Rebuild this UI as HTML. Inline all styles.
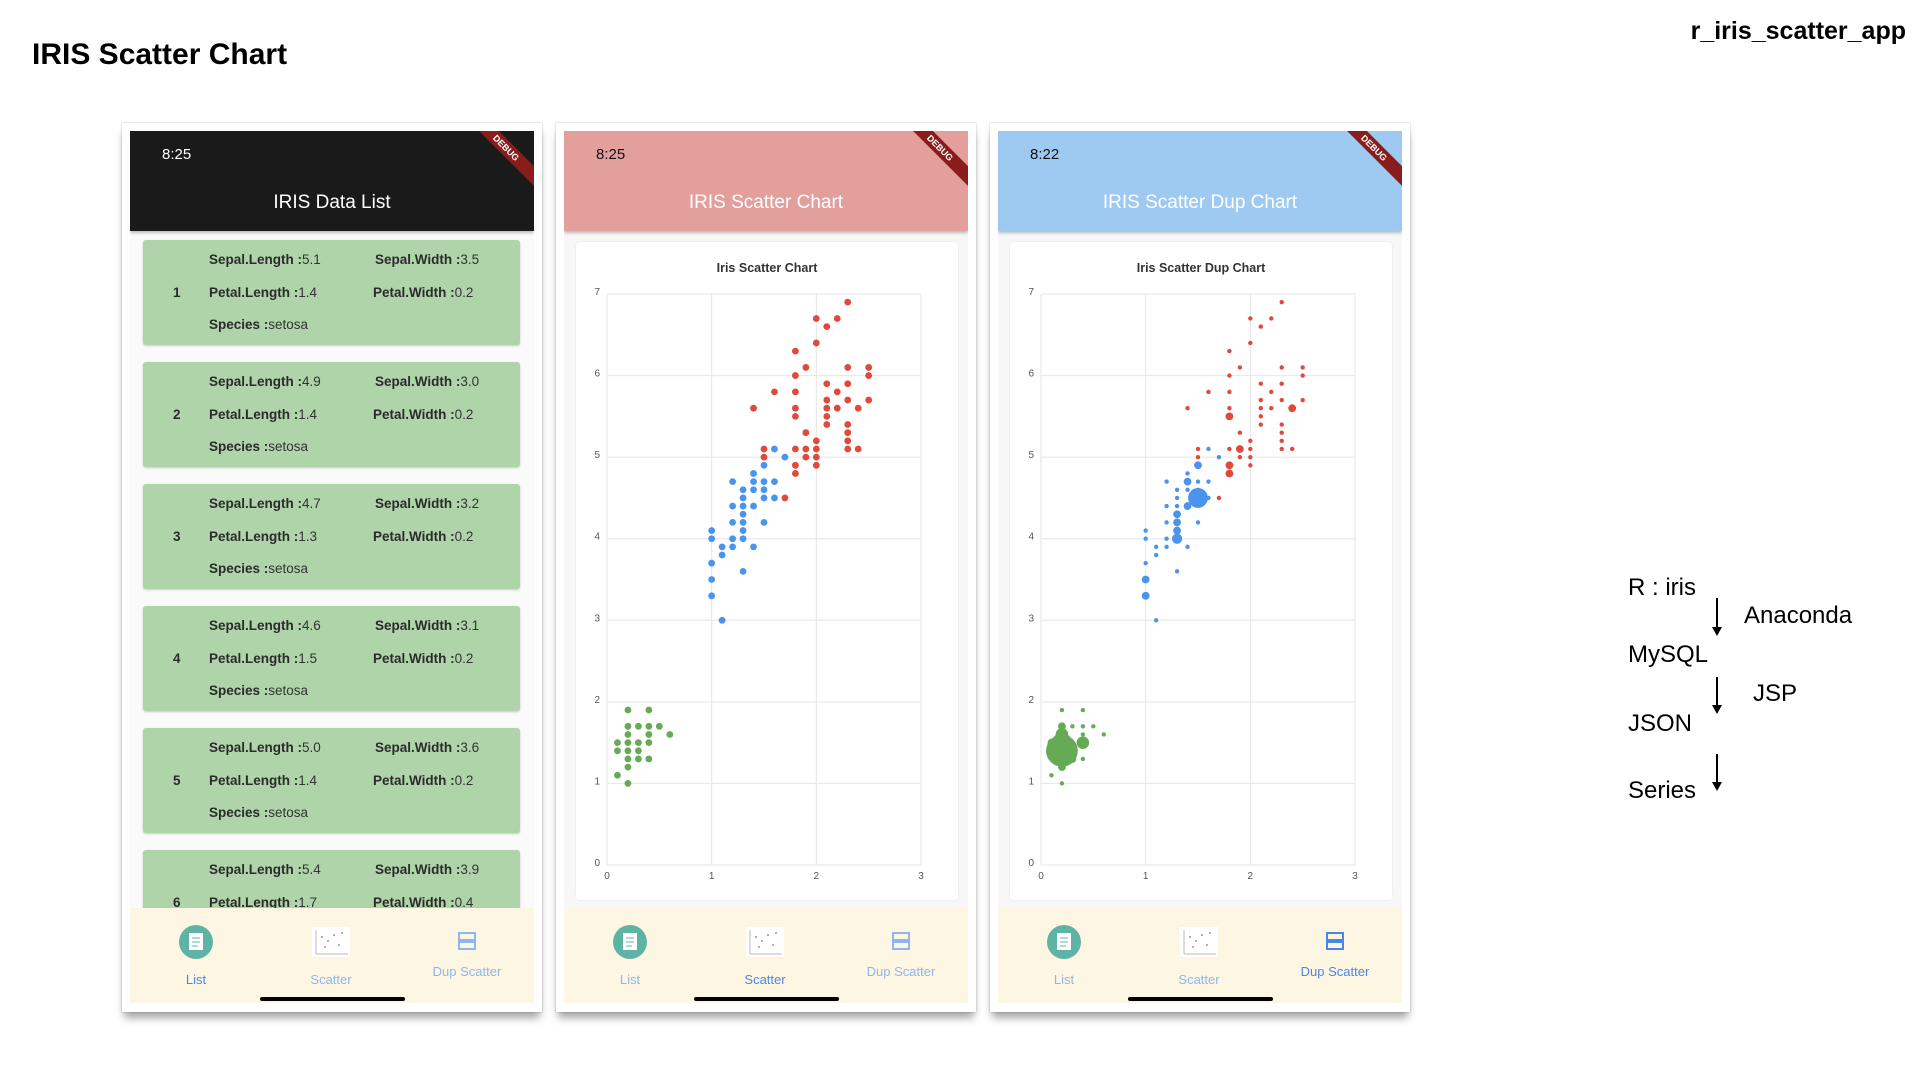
<!DOCTYPE html>
<html><head><meta charset="utf-8"><style>
body{margin:0;width:1914px;height:1068px;background:#fff;position:relative;overflow:hidden;font-family:"Liberation Sans",sans-serif}
.abs{position:absolute}
.frame{position:absolute;top:123px;width:420px;height:889px;background:#fff;box-shadow:0 8px 8px -2px rgba(0,0,0,.35),0 0 2px rgba(0,0,0,.25)}
.screen{position:absolute;left:8px;top:8px;width:404px;height:872px;background:#f7f7f7;overflow:hidden}
.hdr{position:absolute;left:0;top:0;width:404px;height:100px;box-shadow:0 2px 3px rgba(0,0,0,.25)}
.time{position:absolute;left:32px;top:15px;font-size:15px}
.htitle{position:absolute;left:0;width:404px;top:61px;text-align:center;font-size:19px;color:#fff}
.ribbon{position:absolute;right:-22px;top:10px;width:100px;height:14px;background:#8b1c1c;transform:rotate(45deg);color:#fff;font-size:9px;font-weight:bold;text-align:center;line-height:14px}
.card{position:absolute;left:13px;width:377px;height:105px;background:#afd4aa;border-radius:3px;box-shadow:0 1px 2px rgba(0,0,0,.2);font-size:13.5px;color:#333}
.card b{color:#2b2b2b}
.card span{position:absolute}
.nav{position:absolute;left:0;top:777px;width:404px;height:95px;background:#fdf6e3}
.nav .lbl{position:absolute;font-size:13px;text-align:center;width:120px}
.home{position:absolute;left:130px;top:89px;width:145px;height:4px;border-radius:2px;background:#000}
.ccard{position:absolute;left:12px;top:111px;width:382px;height:658px;background:#fff;border-radius:4px;box-shadow:0 0 2px rgba(0,0,0,.08)}
.side{position:absolute;font-size:24px;color:#000}
</style></head><body>
<div class="abs" style="left:32px;top:38px;font-size:30px;font-weight:bold">IRIS Scatter Chart</div>
<div class="abs" style="right:8px;top:17px;font-size:25px;font-weight:bold">r_iris_scatter_app</div>

<!-- Phone 1 -->
<div class="frame" style="left:122px">
 <div class="screen" style="background:#fafafa">
  <div class="hdr" style="background:#1a1a1a">
   <div class="time" style="color:#fff">8:25</div>
   <div class="ribbon">DEBUG</div>
   <div class="htitle">IRIS Data List</div>
  </div>
  <div id="cards"></div>
  <div class="nav"></div>
 </div>
</div>
<!-- Phone 2 -->
<div class="frame" style="left:556px">
 <div class="screen">
  <div class="hdr" style="background:#e29f9c">
   <div class="time" style="color:#111">8:25</div>
   <div class="ribbon">DEBUG</div>
   <div class="htitle">IRIS Scatter Chart</div>
  </div>
  <div class="ccard"><svg id="sc1" width="382" height="658"></svg></div>
  <div class="nav"></div>
 </div>
</div>
<!-- Phone 3 -->
<div class="frame" style="left:990px">
 <div class="screen">
  <div class="hdr" style="background:#9ecaf2">
   <div class="time" style="color:#111">8:22</div>
   <div class="ribbon">DEBUG</div>
   <div class="htitle">IRIS Scatter Dup Chart</div>
  </div>
  <div class="ccard"><svg id="sc2" width="382" height="658"></svg></div>
  <div class="nav"></div>
 </div>
</div>

<div class="side" style="left:1628px;top:574px">R : iris</div>
<div class="side" style="left:1744px;top:602px">Anaconda</div>
<div class="side" style="left:1628px;top:641px">MySQL</div>
<div class="side" style="left:1753px;top:680px">JSP</div>
<div class="side" style="left:1628px;top:710px">JSON</div>
<div class="side" style="left:1628px;top:777px">Series</div>
<svg class="abs" style="left:1700px;top:590px" width="40" height="210">
 <g stroke="#000" stroke-width="2"><line x1="17" y1="8" x2="17" y2="40"/><line x1="17" y1="87" x2="17" y2="118"/><line x1="17" y1="164" x2="17" y2="195"/></g>
 <g fill="#000"><polygon points="12,37 22,37 17,46"/><polygon points="12,115 22,115 17,124"/><polygon points="12,192 22,192 17,201"/></g>
</svg>

<script>
// ---- data ----
const setosaX=[0.2,0.4,0.2,0.3,0.4,0.5,0.2,0.4,0.6,0.1,0.2,0.3,0.4,0.1,0.2,0.3,0.2,0.3,0.4,0.2,0.1,0.2];
const setosaY=[1.9,1.9,1.7,1.7,1.7,1.7,1.6,1.6,1.6,1.5,1.5,1.5,1.5,1.4,1.4,1.4,1.3,1.3,1.3,1.2,1.1,1.0];
const setosaN=[1,1,2,1,1,1,4,1,1,2,7,1,4,1,12,1,4,2,1,2,1,1];
const versiX=[1.6,1.7,1.5,1.4,1.2,1.4,1.5,1.6,1.3,1.4,1.5,1.3,1.5,1.6,1.2,1.3,1.4,1.3,1.2,1.3,1.5,1.0,1.3,1.0,1.2,1.3,1.1,1.2,1.4,1.1,1.0,1.3,1.0,1.0,1.1];
const versiY=[5.1,5.0,4.9,4.8,4.7,4.7,4.7,4.7,4.6,4.6,4.6,4.5,4.5,4.5,4.4,4.4,4.4,4.3,4.2,4.2,4.2,4.1,4.1,4.0,4.0,4.0,3.9,3.9,3.9,3.8,3.7,3.6,3.5,3.3,3.0];
const versiN=[1,1,2,1,1,2,1,1,1,1,1,1,7,1,1,1,2,2,1,2,1,1,2,1,1,3,1,1,1,1,1,1,2,2,1];
const virgX=[2.3,2.0,2.2,2.1,2.0,1.8,1.9,2.3,2.5,1.8,2.5,2.1,2.3,1.6,1.8,2.2,2.1,2.3,2.5,1.4,1.8,2.1,2.2,2.4,1.8,2.1,2.1,2.3,1.9,2.3,2.0,2.3,1.5,1.8,1.9,2.0,2.3,2.4,1.5,1.9,2.0,1.8,2.0,1.8,1.7];
const virgY=[6.9,6.7,6.7,6.6,6.4,6.3,6.1,6.1,6.1,6.0,6.0,5.9,5.9,5.8,5.8,5.8,5.7,5.7,5.7,5.6,5.6,5.6,5.6,5.6,5.5,5.5,5.4,5.4,5.3,5.3,5.2,5.2,5.1,5.1,5.1,5.1,5.1,5.1,5.0,5.0,5.0,4.9,4.9,4.8,4.5];
const virgN=[1,1,1,1,1,1,1,1,1,1,1,1,1,1,1,1,1,1,1,1,1,1,1,2,2,1,1,1,1,1,1,1,1,1,2,1,1,1,1,1,1,2,1,2,1];
const xTicks=[0,1,2,3];
const yTicks=[0,1,2,3,4,5,6,7];
const rows=[["5.1","3.5","1.4","0.2"],["4.9","3.0","1.4","0.2"],["4.7","3.2","1.3","0.2"],["4.6","3.1","1.5","0.2"],["5.0","3.6","1.4","0.2"],["5.4","3.9","1.7","0.4"]];
const NS='http://www.w3.org/2000/svg';
const L=31,R=345,T=52,B=623;
const xs=v=>L+(R-L)*v/3, ys=v=>B-(B-T)*v/7;
function mk(p,t,a){const e=document.createElementNS(NS,t);for(const k in a)e.setAttribute(k,a[k]);p.appendChild(e);return e;}
function chart(id,title,dup){
 const s=document.getElementById(id);
 const tt=mk(s,'text',{x:191,y:30,'text-anchor':'middle','font-size':12.5,'font-weight':'bold',fill:'#333'});tt.textContent=title;
 
 
 xTicks.forEach(v=>{mk(s,'line',{x1:xs(v),x2:xs(v),y1:T,y2:B,stroke:'#e6e6e6','stroke-width':1});
  const t=mk(s,'text',{x:xs(v),y:B+14,'text-anchor':'middle','font-size':10,fill:'#555'});t.textContent=v;
  
  });
 yTicks.forEach(v=>{mk(s,'line',{x1:L,x2:R,y1:ys(v),y2:ys(v),stroke:'#e6e6e6','stroke-width':1});
  const t=mk(s,'text',{x:L-7,y:ys(v)+1,'text-anchor':'end','font-size':10,fill:'#555'});t.textContent=v;
  
  });
 [[setosaX,setosaY,setosaN,'#66aa55','setosa'],[versiX,versiY,versiN,'#4a94ee','versicolor'],[virgX,virgY,virgN,'#e04a3a','virginica']].forEach(([X,Y,N,c,nm])=>{
  X.forEach((x,i)=>{let r=3.4;if(dup){r=(N[i]>1?1.5+1.2*N[i]:2.2);}
   const d=mk(s,'circle',{cx:xs(x),cy:ys(Y[i]),r:r,fill:c});
   
   });
 });
}
chart('sc1','Iris Scatter Chart',false);
chart('sc2','Iris Scatter Dup Chart',true);
// list cards
const cw=document.getElementById('cards');
rows.forEach((r,k)=>{const c=document.createElement('div');c.className='card';c.style.top=(109+k*122)+'px';
 
 
 c.innerHTML='<span style="left:30px;top:45px"><b>'+(k+1)+'</b></span>'+
 '<span style="left:66px;top:12px"><b>Sepal.Length :</b>'+r[0]+'</span><span style="left:232px;top:12px"><b>Sepal.Width :</b>'+r[1]+'</span>'+
 '<span style="left:66px;top:45px"><b>Petal.Length :</b>'+r[2]+'</span><span style="left:230px;top:45px"><b>Petal.Width :</b>'+r[3]+'</span>'+
 '<span style="left:66px;top:77px"><b>Species :</b>setosa</span>';cw.appendChild(c);});
// nav bars
const active=[0,1,2];
document.querySelectorAll('.nav').forEach((n,i)=>{
 const on=c=>c===active[i]?'#4a86e8':'#8fb5f0';
 n.innerHTML='<svg style="position:absolute;left:46px;top:14px" width="40" height="40"><circle cx="20" cy="20" r="17" fill="#5fb3a5"/><rect x="13" y="11" width="14" height="17" fill="#fff"/><line x1="16" y1="16" x2="24" y2="16" stroke="#5fb3a5"/><line x1="16" y1="20" x2="24" y2="20" stroke="#5fb3a5"/><line x1="16" y1="24" x2="22" y2="24" stroke="#5fb3a5"/></svg>'+
 '<svg style="position:absolute;left:182px;top:19px" width="38" height="30"><rect width="38" height="30" fill="#fff"/><line x1="4" y1="3" x2="4" y2="27" stroke="#bbb"/><line x1="4" y1="27" x2="36" y2="27" stroke="#bbb"/><g fill="#999"><circle cx="10" cy="10" r="1"/><circle cx="16" cy="14" r="1"/><circle cx="22" cy="8" r="1"/><circle cx="27" cy="18" r="1"/><circle cx="13" cy="20" r="1"/><circle cx="30" cy="6" r="1"/></g></svg>'+
 '<svg style="position:absolute;left:328px;top:24px" width="18" height="18"><rect x="1" y="1" width="16" height="7" fill="none" stroke="'+on(2)+'" stroke-width="2"/><rect x="1" y="10" width="16" height="7" fill="none" stroke="'+on(2)+'" stroke-width="2"/></svg>'+
 '<div class="lbl" style="left:6px;top:64px;color:'+on(0)+'">List</div>'+
 '<div class="lbl" style="left:141px;top:64px;color:'+on(1)+'">Scatter</div>'+
 '<div class="lbl" style="left:277px;top:56px;color:'+on(2)+'">Dup Scatter</div><div class="home"></div>';
 n.querySelectorAll('.lbl').forEach(l=>{
  });
});
</script>
</body></html>
